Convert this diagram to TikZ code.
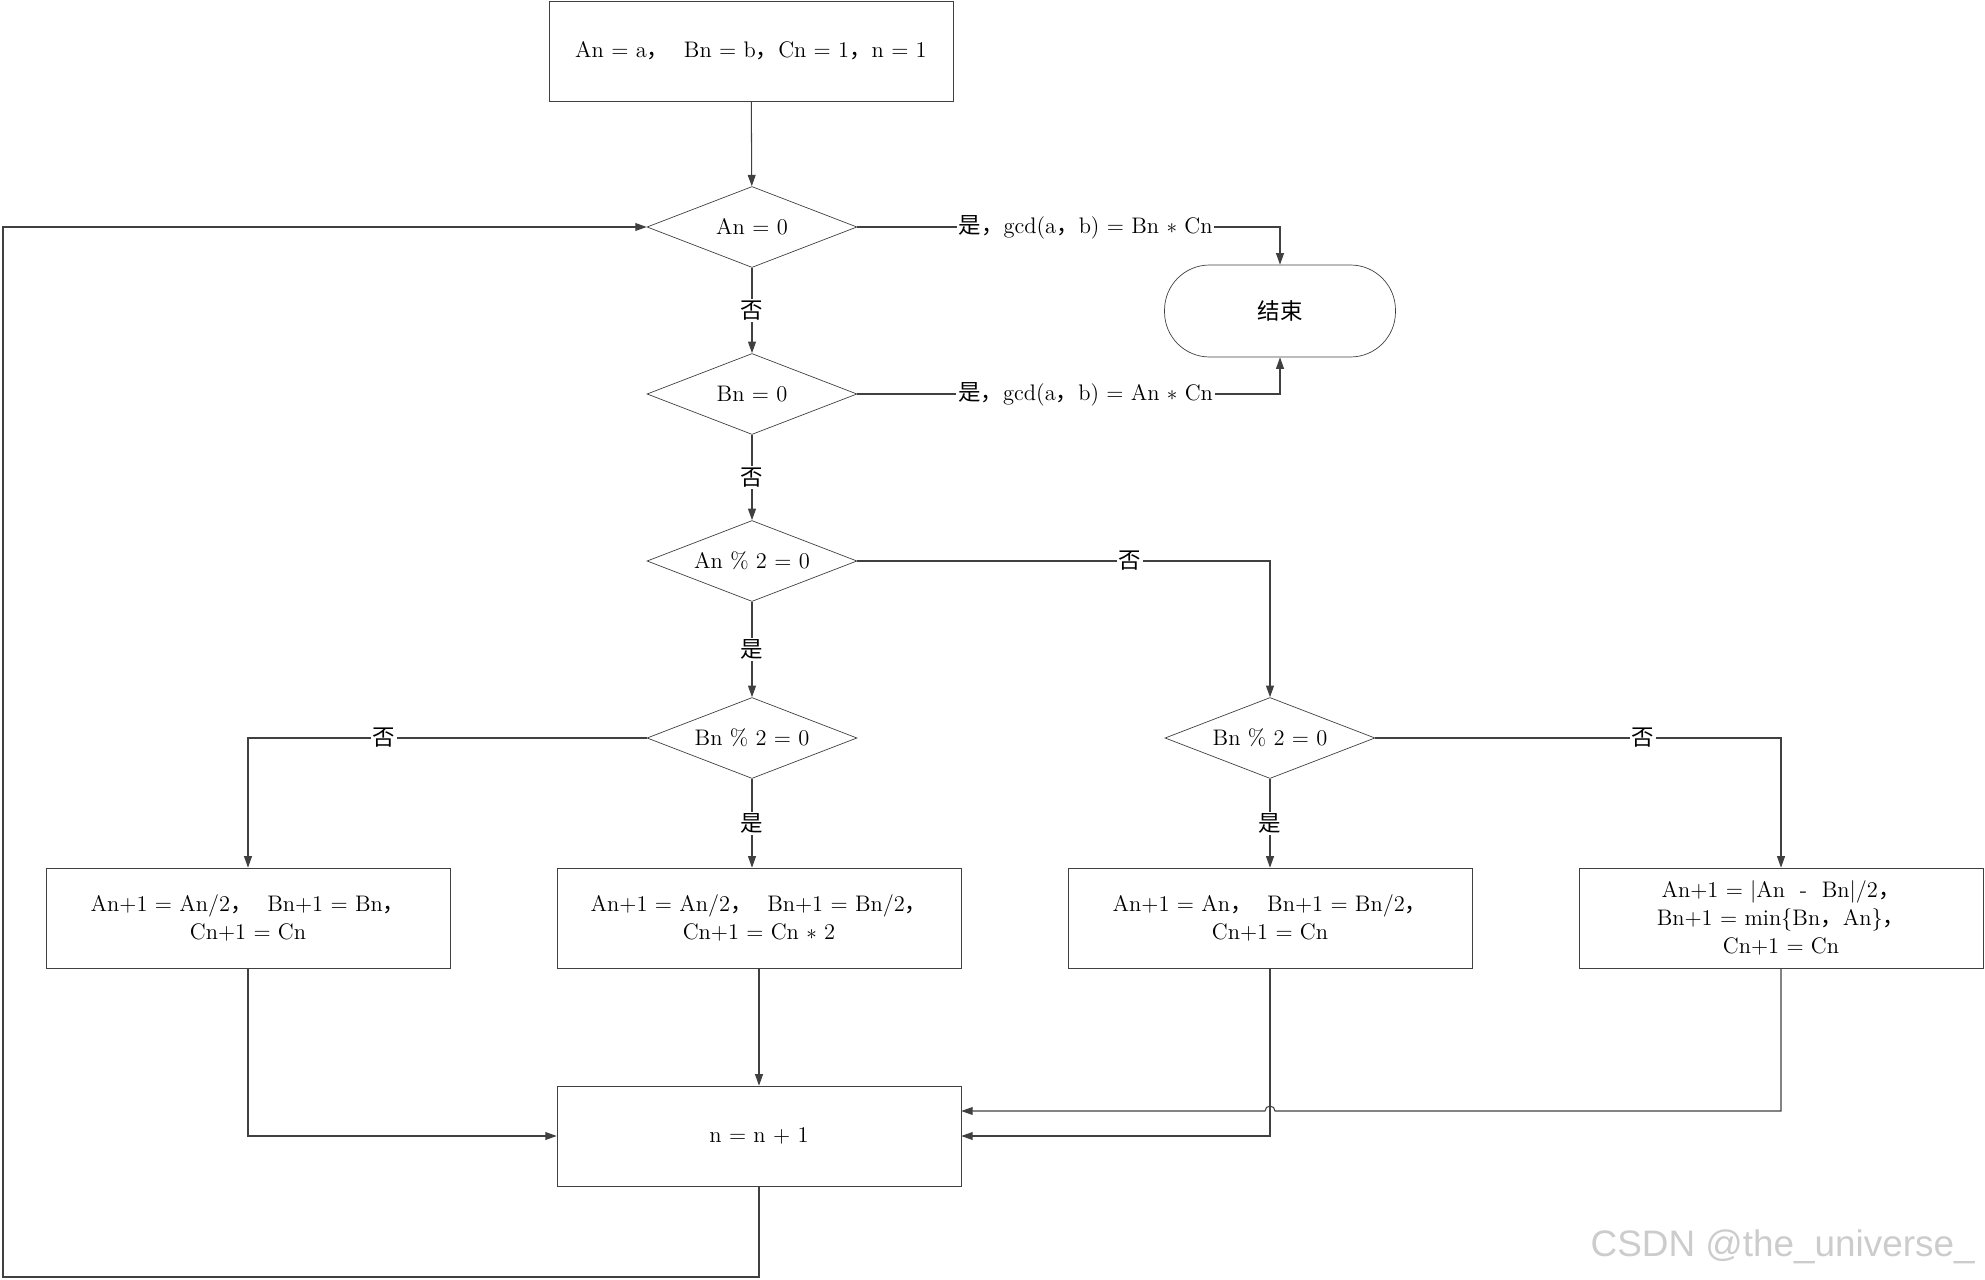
\documentclass[tikz,border=0pt]{standalone}
\usepackage{fontspec}
\newfontfamily\cjk{Noto Sans CJK SC}
\newfontfamily\wmfont{Liberation Sans}
\usepackage{xcolor}
\usepackage{tikz}
\usetikzlibrary{shapes.geometric, arrows.meta, positioning, calc}
\colorlet{lineclr}{black!75}
\newcommand{\zc}{{\cjk ，}}
\newcommand{\chartfont}{\fontsize{12.8}{16}\selectfont}

\begin{document}
\begin{tikzpicture}[
    x=0.02cm, y=-0.02cm,
    proc/.style={rectangle, draw=lineclr, minimum width=8.08cm, minimum height=2cm, align=center, font=\chartfont},
    cond/.style={diamond, draw=lineclr, minimum width=4.2cm, minimum height=1.62cm, aspect=2.6, inner sep=1pt, font=\chartfont},
    term/.style={rectangle, rounded corners=0.9cm, draw=lineclr, minimum width=4.62cm, minimum height=1.84cm, font=\chartfont\cjk},
    lbl/.style={fill=white, inner sep=1pt, font=\chartfont},
    flow/.style={->, draw=lineclr, line width=0.6pt},
    >={Triangle[length=6.5pt,width=4.5pt]}
]
\useasboundingbox (0,0) rectangle (1985,1280);

% Start
\node[proc] (init) at (751,51) {An = a\zc\ \ Bn = b\zc Cn = 1\zc n = 1};

% Decisions
\node[cond] (aZero) at (752,227) {An = 0};
\node[cond] (bZero) at (752,394) {Bn = 0};
\node[cond] (aEven) at (752,561) {An \% 2 = 0};
\node[cond] (bEvenL) at (752,738) {Bn \% 2 = 0};
\node[cond] (bEvenR) at (1270,738) {Bn \% 2 = 0};

% End
\node[term] (stop) at (1280,311) {结束};

% Updates
\node[proc] (halfA) at (248,918) {An+1 = An/2\zc\ \ Bn+1 = Bn\zc\\Cn+1 = Cn};
\node[proc] (halfAB) at (759,918) {An+1 = An/2\zc\ \ Bn+1 = Bn/2\zc\\Cn+1 = Cn $*$ 2};
\node[proc] (halfB) at (1270,918) {An+1 = An\zc\ \ Bn+1 = Bn/2\zc\\Cn+1 = Cn};
\node[proc] (diffAB) at (1781,918) {An+1 = |An \ - \ Bn|/2\zc\\Bn+1 = min\{Bn\zc An\}\zc\\Cn+1 = Cn};
\node[proc] (inc) at (759,1136) {n = n + 1};

% Watermark
\node[font=\wmfont\fontsize{21}{24}\selectfont, text=gray!40, anchor=east, inner sep=0pt] (mark) at (1975,1247) {CSDN @the\_universe\_};

% Main line
\draw[flow] (init) -- (aZero);
\draw[flow] (aZero) -- node[lbl]{\cjk 否} (bZero);
\draw[flow] (bZero) -- node[lbl]{\cjk 否} (aEven);
\draw[flow] (aEven) -- node[lbl]{\cjk 是} (bEvenL);

% Branches
\draw[flow] (aEven.east) -| node[lbl, pos=0.33]{\cjk 否} (bEvenR.north);
\draw[flow] (bEvenL.west) -| node[lbl, pos=0.33]{\cjk 否} (halfA.north);
\draw[flow] (bEvenL.south) -- node[lbl]{\cjk 是} (bEvenL.south |- halfAB.north);
\draw[flow] (bEvenR) -- node[lbl]{\cjk 是} (halfB);
\draw[flow] (bEvenR.east) -| node[lbl, pos=0.33]{\cjk 否} (diffAB.north);

% Exits
\draw[flow] (aZero.east) -| node[lbl, pos=0.27]{{\cjk 是，}gcd(a\zc b) = Bn $*$ Cn} (stop.north);
\draw[flow] (bZero.east) -| node[lbl, pos=0.27]{{\cjk 是，}gcd(a\zc b) = An $*$ Cn} (stop.south);

% Merge into n = n + 1
\draw[flow] (halfA.south) |- (inc.west);
\draw[flow] (halfAB) -- (inc);
\draw[flow] (halfB.south) |- (inc.east);
\coordinate (hopR) at (1275,1111);
\coordinate (hopL) at (1265,1111);
\draw[flow] (diffAB.south) |- (hopR) arc[start angle=0, end angle=180, radius=0.1cm] -- (inc.east |- hopL);

% Loop back
\coordinate (loopBL) at (3,1277);
\draw[flow] (inc.south) |- (loopBL) |- (aZero.west);
\end{tikzpicture}
\end{document}
